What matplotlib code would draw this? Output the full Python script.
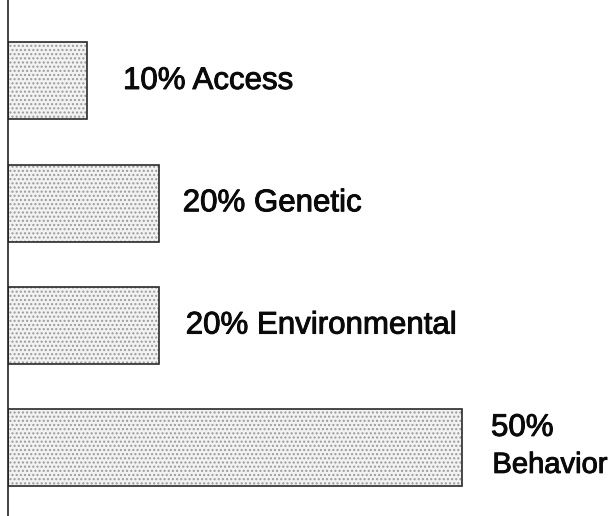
import matplotlib
matplotlib.use("Agg")
import matplotlib.pyplot as plt
import matplotlib.patheffects as pe

# Data
categories = ["Access", "Genetic", "Environmental", "Behavior"]
percent_labels = ["10%", "20%", "20%", "50%"]
bar_lengths = [8.7, 16.6, 16.6, 50.0]   # drawn bar lengths

# style
label_gap_px = [36, 24, 27, 29]
PT = 0.72  # points per pixel at dpi 100
plt.rcParams['font.family'] = ['Liberation Sans', 'DejaVu Sans']
heavy = [pe.withStroke(linewidth=0.7, foreground='#0a0a0a')]

fig = plt.figure(figsize=(6.16, 5.16), dpi=100)
ax = fig.add_axes([8 / 616, 0, 1 - 8 / 616, 1])

ypos = list(range(len(categories)))
ax.barh(ypos, bar_lengths, height=0.63, color='#f2f2f2', edgecolor='#9a9a9a',
        linewidth=0, hatch='....')
ax.barh(ypos, bar_lengths, height=0.63, fill=False, edgecolor='#2a2a2a', linewidth=1.2)

for i, (pct, cat, v) in enumerate(zip(percent_labels, categories, bar_lengths)):
    dx = label_gap_px[i] * PT
    if cat != "Behavior":
        ax.annotate(f"{pct} {cat}", xy=(v, i), xytext=(dx, 0),
                    textcoords='offset points', ha='left', va='center',
                    fontsize=22.5, color='#0a0a0a', path_effects=heavy)
    else:
        ax.annotate(pct, xy=(v, i), xytext=(dx, 12 * PT),
                    textcoords='offset points', ha='left', va='baseline',
                    fontsize=22.5, color='#0a0a0a', path_effects=heavy)
        ax.annotate(cat, xy=(v, i), xytext=(dx + 1, -25 * PT),
                    textcoords='offset points', ha='left', va='baseline',
                    fontsize=21, color='#0a0a0a', path_effects=heavy)

ax.set_xlim(0, 66.96)
ax.set_ylim(3.557, -0.662)
for s in ['top', 'right', 'bottom']:
    ax.spines[s].set_visible(False)
ax.spines['left'].set_color('#222222')
ax.spines['left'].set_linewidth(1.2)
ax.set_xticks([])
ax.set_yticks([])
ax.patch.set_alpha(0)

fig.savefig("out.png", dpi=100)
